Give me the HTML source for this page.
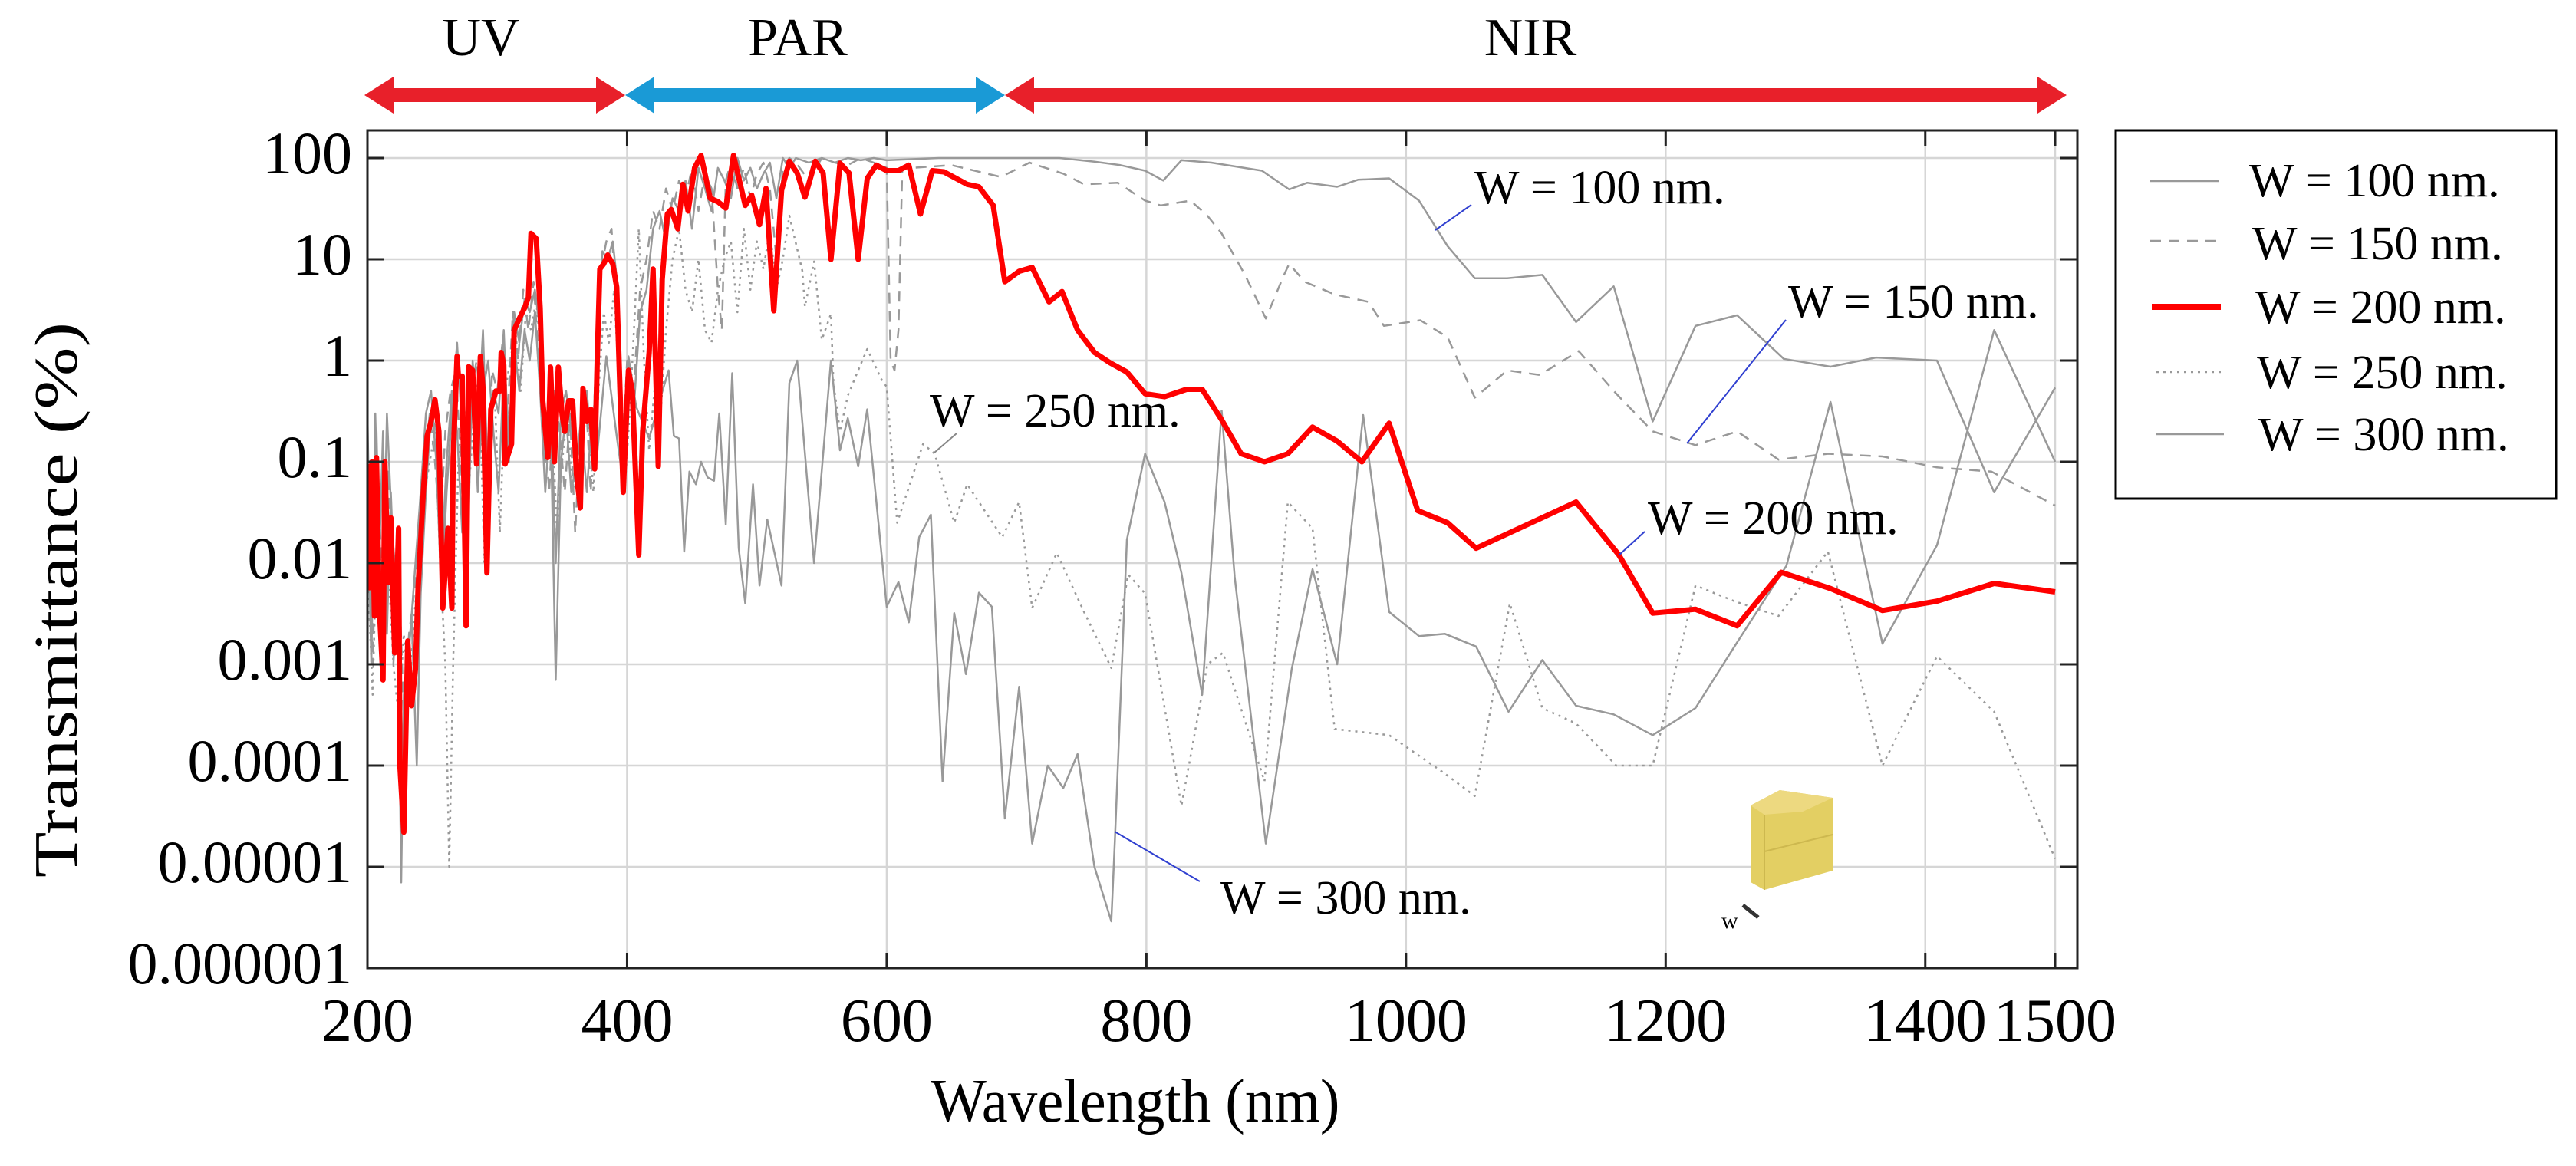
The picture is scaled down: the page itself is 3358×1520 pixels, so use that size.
<!DOCTYPE html>
<html><head><meta charset="utf-8"><style>
html,body{margin:0;padding:0;background:#fff;}
svg{display:block;}
text{font-family:"Liberation Serif",serif;fill:#000;}
</style></head>
<body>
<svg id="chart" width="3358" height="1520" viewBox="0 0 3358 1520" xmlns="http://www.w3.org/2000/svg">
<defs><clipPath id="plotclip"><rect x="479" y="170" width="2229" height="1092"/></clipPath></defs>
<g id="arrows">
  <polygon fill="#e8202a" points="475,124 513,100 513,115 777,115 777,100 815,124 777,148 777,133 513,133 513,148"/>
  <polygon fill="#1a9ad6" points="815,124 853,100 853,115 1272,115 1272,100 1310,124 1272,148 1272,133 853,133 853,148"/>
  <polygon fill="#e8202a" points="1310,124 1348,100 1348,115 2656,115 2656,100 2694,124 2656,148 2656,133 1348,133 1348,148"/>
  <text x="627" y="72" font-size="70" text-anchor="middle">UV</text>
  <text x="1040" y="72" font-size="70" text-anchor="middle">PAR</text>
  <text x="1995" y="72" font-size="70" text-anchor="middle">NIR</text>
</g>
<g id="grid"></g>
<g id="series" clip-path="url(#plotclip)"></g>
<rect x="479" y="170" width="2229" height="1092" fill="none" stroke="#222" stroke-width="3"/>
<g id="ticks"></g>
<text transform="translate(100,782) rotate(-90)" font-size="80" text-anchor="middle" textLength="724" lengthAdjust="spacingAndGlyphs">Transmittance (%)</text>
<text x="1480" y="1462" font-size="80" text-anchor="middle" textLength="533" lengthAdjust="spacingAndGlyphs">Wavelength (nm)</text>
<g id="annotations">
  <line x1="1871" y1="300" x2="1918" y2="267" stroke="#3040d0" stroke-width="2"/>
  <text x="1922" y="265" font-size="62">W = 100 nm.</text>
  <line x1="2199" y1="578" x2="2328" y2="417" stroke="#3040d0" stroke-width="2"/>
  <text x="2331" y="414" font-size="62">W = 150 nm.</text>
  <line x1="2110" y1="724" x2="2144" y2="693" stroke="#3040d0" stroke-width="2"/>
  <text x="2148" y="696" font-size="62">W = 200 nm.</text>
  <line x1="1218" y1="590" x2="1247" y2="565" stroke="#888" stroke-width="2"/>
  <text x="1212" y="556" font-size="62">W = 250 nm.</text>
  <line x1="1453" y1="1084" x2="1564" y2="1149" stroke="#3040d0" stroke-width="2"/>
  <text x="1591" y="1191" font-size="62">W = 300 nm.</text>
</g>
<g id="cube">
  <polygon points="2282,1050 2320,1030 2389,1040 2389,1135 2300,1160 2282,1150" fill="#e3cf63"/>
  <polygon points="2282,1050 2320,1030 2389,1040 2350,1058 2300,1062" fill="#edd980"/>
  <line x1="2300" y1="1062" x2="2300" y2="1160" stroke="#cdb84f" stroke-width="2"/>
  <line x1="2300" y1="1110" x2="2389" y2="1088" stroke="#cdb84f" stroke-width="2"/>
  <line x1="2272" y1="1180" x2="2292" y2="1196" stroke="#333" stroke-width="5"/>
  <text x="2244" y="1210" font-size="30">w</text>
</g>
<g id="legend">
  <rect x="2758" y="170" width="574" height="480" fill="#fff" stroke="#000" stroke-width="3"/>
  <line x1="2803" y1="236" x2="2892" y2="236" stroke="#999" stroke-width="2.5"/>
  <text x="2932" y="256" font-size="62">W = 100 nm.</text>
  <line x1="2803" y1="314" x2="2892" y2="314" stroke="#999" stroke-width="2.5" stroke-dasharray="14 10"/>
  <text x="2936" y="338" font-size="62">W = 150 nm.</text>
  <line x1="2805" y1="400" x2="2895" y2="400" stroke="#ff0000" stroke-width="8"/>
  <text x="2940" y="421" font-size="62">W = 200 nm.</text>
  <line x1="2811" y1="485" x2="2895" y2="485" stroke="#999" stroke-width="2.5" stroke-dasharray="3 6"/>
  <text x="2942" y="506" font-size="62">W = 250 nm.</text>
  <line x1="2810" y1="566" x2="2899" y2="566" stroke="#999" stroke-width="2.5"/>
  <text x="2944" y="587" font-size="62">W = 300 nm.</text>
</g>
</svg>
<script>
const xTicks = [200,400,600,800,1000,1200,1400,1500];
const yTicks = [100,10,1,0.1,0.01,0.001,0.0001,0.00001,0.000001];
const yTickLabels = ["100","10","1","0.1","0.01","0.001","0.0001","0.00001","0.000001"];

const wl100 = [200,203,207,211,215,219,223,226,229,233,237,241,245,249,253,257,261,265,269,273,277,281,285,289,293,297,301,305,309,313,317,321,325,329,333,337,341,345,349,353,357,361,365,369,373,377,381,385,389,393,397,401,405,410,415,420,425,430,435,440,445,450,455,460,465,470,475,480,485,490,495,500,505,510,515,520,525,530,540,550,560,570,580,590,600,640,681,733,760,780,799,813,827,850,889,910,924,947,963,987,1010,1032,1053,1078,1105,1131,1160,1190,1223,1255,1291,1327,1362,1409,1453,1500];
const t100 = [0.3,0.002,0.2,0.001,0.3,0.02,0.005,0.0001,0.0005,0.002,0.01,0.05,0.3,0.5,0.1,0.005,0.05,0.3,1.5,0.2,0.01,1.0,0.2,2,0.05,0.5,0.3,2,0.1,3,1.5,4,3,5,2,0.1,0.5,0.01,0.3,0.5,0.2,0.1,0.3,0.5,0.1,2,12,10,15,5,0.05,1,0.3,3,5,20,30,15,40,30,60,20,80,50,30,80,60,40,100,60,80,50,70,90,40,100,80,100,90,100,90,100,95,100,95,100,100,100,92,85,75,60,95,90,75,49,57,52,61,63,38,13.5,6.5,6.5,7,2.4,5.4,0.25,2.2,2.8,1.04,0.87,1.07,1.0,0.05,0.54];

const wl150 = [200,204,208,212,216,220,224,228,232,236,240,244,248,252,256,260,264,268,272,276,280,284,288,292,296,300,304,308,312,316,320,324,328,332,336,340,344,348,352,356,360,364,368,372,376,380,384,388,392,396,400,405,410,415,420,425,430,435,440,445,450,455,460,465,470,473,476,480,485,490,495,500,505,510,515,520,525,530,540,550,560,570,580,590,600,603,606,609,612,620,650,688,710,736,752,778,799,811,834,847,858,876,892,906,910,922,945,971,983,1011,1032,1053,1078,1103,1133,1162,1190,1223,1255,1287,1325,1367,1409,1451,1500];
const t150 = [0.05,0.001,0.1,0.003,0.08,0.001,0.01,0.0003,0.002,0.005,0.02,0.1,0.3,0.1,0.02,0.2,0.5,0.8,0.1,0.005,0.5,1,0.3,0.02,0.8,0.5,1.5,0.3,3,1,5,2,6,1,0.3,0.05,0.5,0.2,0.05,0.3,0.02,0.2,0.5,0.05,1,8,15,20,3,0.1,1,0.5,5,10,30,20,50,30,60,40,80,30,70,50,5,2,60,90,50,80,40,70,90,50,10,80,100,90,60,100,90,85,100,90,80,1,0.8,2,80,80,85,65,90,70,55,57,38,34,38,27,18,7,2.6,7,9,6,4.5,3.8,2.2,2.5,1.7,0.43,0.8,0.72,1.24,0.47,0.2,0.146,0.2,0.105,0.12,0.113,0.088,0.08,0.037];

const wl200 = [200,201.6,203.5,205.4,207,209,212,213.4,216,218,221,224,225,228,231,234,237,239,243,246,249,252,255,258,262,265,266,269,270,273,276,278,281,284,287,289,292,295,299,302,303,305,306,311,313,317,321,324,326,330,333,335,339,341,344,347,350,352,355,358,361,364,366,369,372,375,377,379,382,385,389,392,397,401,404,409,412,417,420,424,427,431,434,439,443,447,452,457,464,470,476,482,491,496,502,507,513,519,525,531,537,545,551,557,564,571,578,585,592,600,609,617,626,635,644,662,671,682,691,702,712,725,735,747,760,772,785,799,814,831,843,858,873,891,909,928,947,966,987,1009,1032,1054,1131,1164,1190,1223,1255,1289,1327,1367,1409,1453,1500];
const t200 = [0.095,0.0057,0.1,0.003,0.11,0.004,0.0007,0.1,0.0064,0.028,0.0013,0.022,0.0001,0.000022,0.0017,0.00039,0.0009,0.0057,0.05,0.18,0.25,0.41,0.2,0.0036,0.022,0.0036,0.11,1.1,0.7,0.7,0.0024,0.87,0.8,0.095,1.1,0.53,0.008,0.33,0.5,0.5,1.2,0.9,0.095,0.15,2,2.6,3.3,4.2,18,16,3.3,0.4,0.11,0.86,0.1,0.86,0.29,0.2,0.4,0.4,0.075,0.035,0.53,0.25,0.33,0.085,1,8,9,11,9,5.3,0.05,0.8,0.5,0.012,0.2,1.2,8,0.09,6.3,28,31,20,55,30,80,106,40,37,32,106,34,43,22,50,3.1,48,93,71,41,93,71,10,89,71,10,63,85,75,75,85,28,75,73,55,52,34,6,7.6,8.3,3.8,4.8,2,1.2,0.95,0.77,0.47,0.44,0.52,0.52,0.26,0.12,0.1,0.12,0.22,0.16,0.1,0.24,0.033,0.025,0.014,0.04,0.012,0.0032,0.0035,0.0024,0.0081,0.0056,0.0034,0.0042,0.0063,0.0052];

const wl250 = [200,204,208,212,216,220,224,228,232,236,240,244,248,252,256,260,263,266,270,274,278,282,286,290,294,298,302,306,310,314,318,322,326,330,334,338,342,346,350,354,358,362,366,370,374,378,382,386,390,394,398,402,406,409,413,417,421,425,430,435,440,445,450,455,460,465,470,475,480,485,490,495,500,505,510,515,520,525,535,537,544,550,557,559,564,570,578,585,596,600,608,628,637,652,662,689,702,712,731,752,773,786,799,827,847,859,891,909,928,945,987,1029,1053,1080,1105,1131,1162,1190,1223,1253,1287,1325,1367,1409,1453,1500];
const t250 = [0.01,0.0005,0.05,0.002,0.01,0.001,0.0003,0.002,0.0005,0.003,0.01,0.05,0.1,0.2,0.01,0.001,0.00001,0.001,0.1,0.5,0.05,0.3,0.8,0.01,0.2,0.5,0.02,0.5,1,2,0.5,3,2,4,1,0.1,0.3,0.02,0.1,0.3,0.05,0.1,0.2,0.3,0.05,0.5,3,1.5,5,0.5,0.05,0.3,3,20,1,0.13,0.5,0.2,2,10,20,5,3,10,2,1.5,5,10,15,3,20,5,15,8,20,5,10,27,7.7,3.4,9.5,1.6,2.9,0.6,0.2,0.45,0.8,1.3,0.65,0.55,0.025,0.15,0.12,0.025,0.06,0.018,0.04,0.0036,0.0126,0.0033,0.00092,0.0077,0.005,0.00004,0.001,0.0013,0.00007,0.04,0.022,0.00023,0.0002,0.000085,0.00005,0.004,0.00037,0.00026,0.0001,0.0001,0.006,0.0042,0.003,0.013,0.0001,0.0012,0.00034,0.000012];

const wl300 = [200,203,206,209,212,215,218,221,224,226,228,231,234,238,241,245,249,253,257,261,265,269,273,277,281,285,289,293,297,301,305,309,313,317,321,325,329,333,337,341,345,349,353,357,361,365,369,373,377,384,392,398,401,407,417,425,432,436,440,444,448,453,457,462,467,471,476,481,486,491,497,502,508,519,525,531,544,557,564,570,578,585,600,609,617,625,634,643,652,661,671,681,691,702,712,724,736,747,760,773,776,785,799,814,827,843,858,868,892,912,928,947,967,987,1010,1030,1054,1079,1105,1131,1160,1190,1223,1253,1293,1327,1367,1409,1453,1500];
const t300 = [0.05,0.001,0.3,0.01,0.2,0.002,0.05,0.005,0.001,0.000007,0.0005,0.001,0.003,0.0001,0.005,0.05,0.3,0.2,0.01,0.1,0.5,0.2,0.02,0.3,0.8,0.05,0.5,1,0.2,0.05,0.8,0.2,1.5,0.5,2,1,3,0.5,0.05,0.3,0.0007,0.1,0.3,0.05,0.1,0.2,0.05,0.3,0.12,1.1,0.18,0.05,1.1,0.35,0.17,0.4,0.8,0.18,0.17,0.013,0.08,0.06,0.1,0.07,0.065,0.3,0.024,0.75,0.014,0.004,0.06,0.006,0.027,0.006,0.6,1.0,0.01,1.0,0.13,0.27,0.09,0.33,0.0037,0.0065,0.0026,0.018,0.03,0.00007,0.0032,0.0008,0.0051,0.0037,0.00003,0.0006,0.000017,0.0001,0.00006,0.00013,0.00001,0.0000029,0.000022,0.017,0.12,0.04,0.008,0.0005,0.32,0.0073,0.000017,0.0009,0.0087,0.001,0.29,0.0033,0.0019,0.002,0.0015,0.00034,0.0011,0.00039,0.00032,0.0002,0.00037,0.0015,0.0094,0.39,0.0016,0.015,2.0,0.1];

const NS = "http://www.w3.org/2000/svg";
const X0 = 479, PXNM = 1.6923;
const Y100 = 206, DEC = 132;
function xs(nm){ return X0 + (nm - 200) * PXNM; }
function ys(v){ return Y100 + (2 - Math.log10(v)) * DEC; }

const grid = document.getElementById('grid');
const ticks = document.getElementById('ticks');
xTicks.forEach(function(t){
  const gx = xs(t);
  const gl = document.createElementNS(NS,'line');
  gl.setAttribute('x1',gx); gl.setAttribute('x2',gx); gl.setAttribute('y1',170); gl.setAttribute('y2',1262);
  gl.setAttribute('stroke','#d6d6d6'); gl.setAttribute('stroke-width','2.5');
  
  
  grid.appendChild(gl);
  [[170,190],[1242,1262]].forEach(function(p){
    const tk = document.createElementNS(NS,'line');
    tk.setAttribute('x1',gx); tk.setAttribute('x2',gx); tk.setAttribute('y1',p[0]); tk.setAttribute('y2',p[1]);
    tk.setAttribute('stroke','#222'); tk.setAttribute('stroke-width','3');
    
    
    ticks.appendChild(tk);
  });
  const tx = document.createElementNS(NS,'text');
  tx.setAttribute('x', gx); tx.setAttribute('y', 1357);
  tx.setAttribute('font-size','80'); tx.setAttribute('text-anchor','middle');
  tx.textContent = String(t);
  
  
  ticks.appendChild(tx);
});
yTicks.forEach(function(t,i){
  const gy = ys(t);
  const gl = document.createElementNS(NS,'line');
  gl.setAttribute('x1',479); gl.setAttribute('x2',2708); gl.setAttribute('y1',gy); gl.setAttribute('y2',gy);
  gl.setAttribute('stroke','#d6d6d6'); gl.setAttribute('stroke-width','2.5');
  
  
  grid.appendChild(gl);
  [[479,501],[2686,2708]].forEach(function(p){
    const tk = document.createElementNS(NS,'line');
    tk.setAttribute('x1',p[0]); tk.setAttribute('x2',p[1]); tk.setAttribute('y1',gy); tk.setAttribute('y2',gy);
    tk.setAttribute('stroke','#222'); tk.setAttribute('stroke-width','3');
    
    
    ticks.appendChild(tk);
  });
  const tx = document.createElementNS(NS,'text');
  tx.setAttribute('x', 459); tx.setAttribute('y', gy + 20);
  tx.setAttribute('font-size','78'); tx.setAttribute('text-anchor','end');
  tx.textContent = yTickLabels[i];
  
  
  ticks.appendChild(tx);
});

const seriesG = document.getElementById('series');
function drawSeries(wl, vals, color, width, dash, name){
  const pts = wl.map(function(w,i){ return xs(w).toFixed(1) + ',' + ys(vals[i]).toFixed(1); }).join(' ');
  const pl = document.createElementNS(NS,'polyline');
  pl.setAttribute('points', pts);
  pl.setAttribute('fill','none');
  pl.setAttribute('stroke', color);
  pl.setAttribute('stroke-width', width);
  pl.setAttribute('stroke-linejoin','round');
  if (dash) pl.setAttribute('stroke-dasharray', dash);
  
  
  seriesG.appendChild(pl);
}
drawSeries(wl250, t250, '#999', 2.5, '3 6', 'series-w250');
drawSeries(wl300, t300, '#999', 2.5, null, 'series-w300');
drawSeries(wl150, t150, '#999', 2.5, '14 10', 'series-w150');
drawSeries(wl100, t100, '#999', 2.5, null, 'series-w100');
drawSeries(wl200, t200, '#ff0000', 7, null, 'series-w200');
</script>
</body></html>
